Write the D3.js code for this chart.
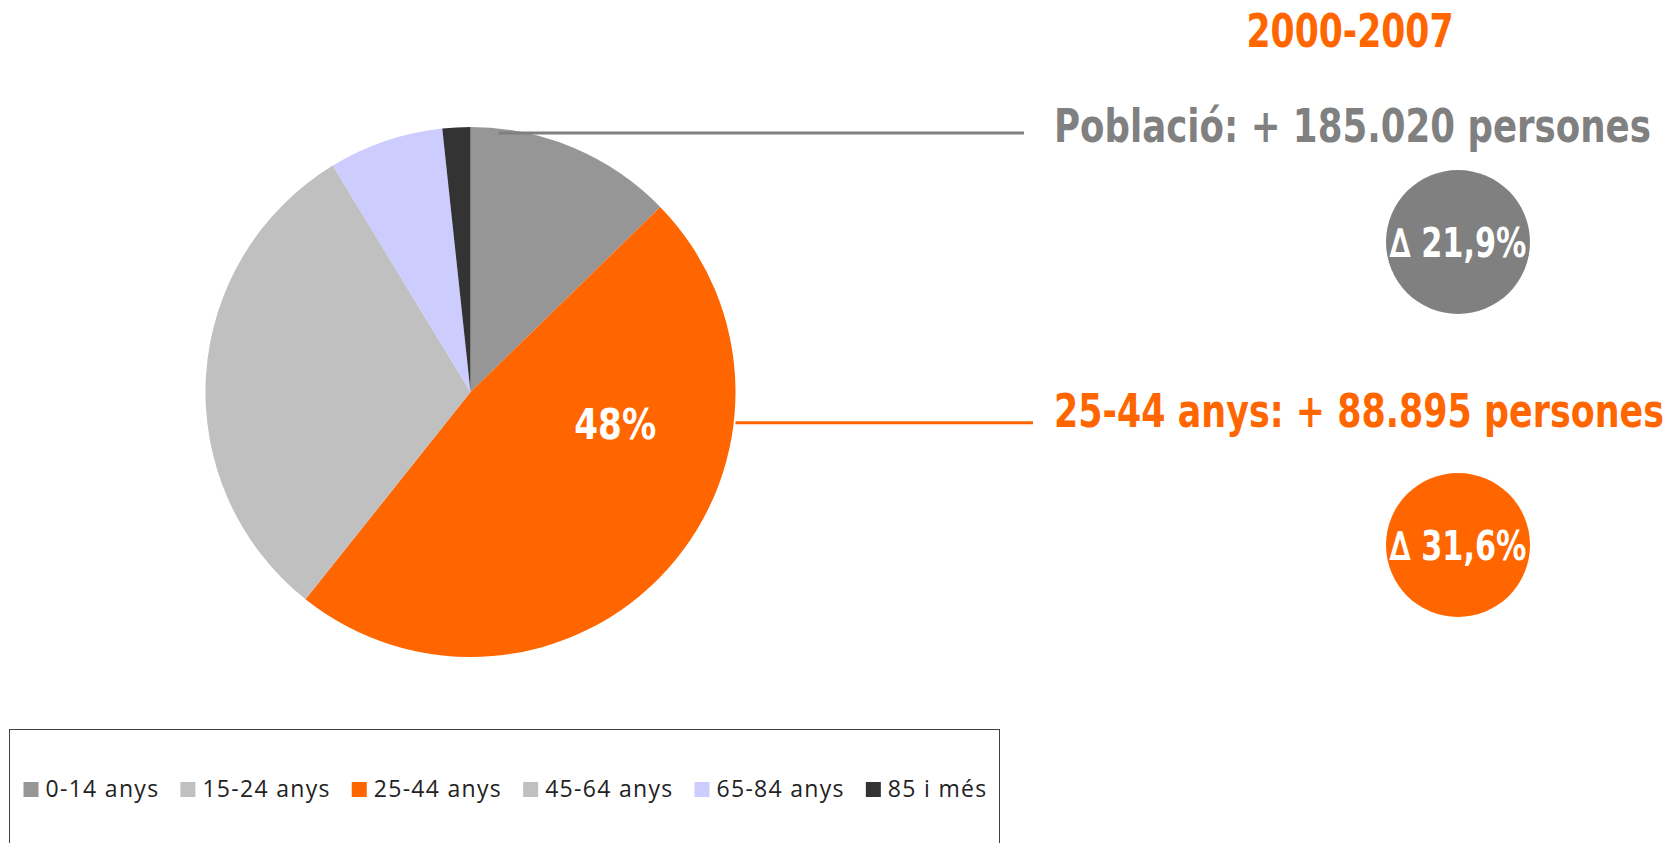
<!DOCTYPE html>
<html>
<head>
<meta charset="utf-8">
<script src="https://cdn.jsdelivr.net/npm/d3@7"></script>
<style>
  body { margin: 0; background: #fff; }
  svg { display: block; }
</style>
</head>
<body>
<svg width="1673" height="843"></svg>
<script>
// increase 2000-2007 by age group, share of the total (%)
var ageGroups = ["0-14 anys", "15-24 anys", "25-44 anys", "45-64 anys", "65-84 anys", "85 i més"];
var shares = [12.7, 0, 48.0, 30.6, 7.0, 1.7];
var sliceColors = ["#969696", "#c0c0c0", "#ff6600", "#c0c0c0", "#ccccff", "#333333"];

var periodLabel = "2000-2007";
var totalLabel = "Població: + 185.020 persones";
var groupLabel = "25-44 anys: + 88.895 persones";
var totalDelta = "∆ 21,9%";
var groupDelta = "∆ 31,6%";
var highlight = 2; // 25-44 anys

var grey = "#808080", orange = "#ff6600";

var svg = d3.select("svg"),
    width = +svg.attr("width"),
    height = +svg.attr("height");

var cx = 470.5, cy = 392, radius = 265;

var data = ageGroups.map(function (d, i) {
    return {key: d, value: shares[i], color: sliceColors[i]};
});

var pie = d3.pie()
        .sort(null)
        .value(function (d) { return d.value; });

var arc = d3.arc()
        .innerRadius(0)
        .outerRadius(radius);

var arcs = pie(data);

var g = svg.append("g")
        .attr("transform", "translate(" + cx + "," + cy + ")");

g.selectAll("path")
        .data(arcs)
        .enter().append("path")
        .attr("d", arc)
        .attr("fill", function (d) { return d.data.color; });

// draws bold text squeezed horizontally to a given width
function fitText(parent, text, x, y, size, color, w, anchor) {
    var t = parent.append("text")
            .attr("text-anchor", anchor || "start")
            .attr("font-family", "DejaVu Sans")
            .attr("font-weight", "bold")
            .attr("font-size", size)
            .attr("fill", color)
            .text(text);
    var k = w / t.node().getComputedTextLength();
    t.attr("transform", "translate(" + x + "," + y + ") scale(" + k + ",1)");
    return t;
}

// label inside the highlighted slice
var hl = arcs[highlight];
var labelAngle = hl.startAngle + 0.33 * (hl.endAngle - hl.startAngle);
var labelPos = d3.pointRadial(labelAngle, radius * 0.56);
fitText(g, hl.data.value.toFixed(0) + "%", labelPos[0], labelPos[1] + 14, 42, "#fff", 82, "middle");

// leader lines
var textX = 1054;
svg.append("line")
        .attr("x1", cx + 28).attr("x2", 1024)
        .attr("y1", cy - radius + 6).attr("y2", cy - radius + 6)
        .attr("stroke", grey).attr("stroke-width", 3);

svg.append("line")
        .attr("x1", cx + radius).attr("x2", 1033)
        .attr("y1", cy + labelPos[1] - 2).attr("y2", cy + labelPos[1] - 2)
        .attr("stroke", orange).attr("stroke-width", 3);

fitText(svg, periodLabel, 1350, 47, 46, orange, 207, "middle");
fitText(svg, totalLabel, textX, 142, 46, grey, 597);
fitText(svg, groupLabel, textX, 427, 46, orange, 610);

function bubble(text, y, color) {
    svg.append("circle")
            .attr("cx", 1458).attr("cy", y)
            .attr("r", 72)
            .attr("fill", color);
    fitText(svg, text, 1458, y + 15, 40, "#fff", 137, "middle");
}

bubble(totalDelta, 242, grey);
bubble(groupDelta, 545, orange);

// legend
svg.append("rect")
        .attr("x", 9.5).attr("y", 729.5)
        .attr("width", 990).attr("height", 130)
        .attr("fill", "none")
        .attr("stroke", "#404040")
        .attr("stroke-width", 1);

var legend = svg.append("g")
        .attr("font-family", "Open Sans")
        .attr("font-size", 23)
        .attr("letter-spacing", 1.3)
        .attr("fill", "#222");

var lx = 23.5;
data.forEach(function (d) {
    legend.append("rect")
            .attr("x", lx).attr("y", 782)
            .attr("width", 15).attr("height", 15)
            .attr("fill", d.color);
    var t = legend.append("text")
            .attr("x", lx + 22)
            .attr("y", 797)
            .text(d.key);
    lx += 22 + t.node().getComputedTextLength() + 21;
});
</script>
</body>
</html>
